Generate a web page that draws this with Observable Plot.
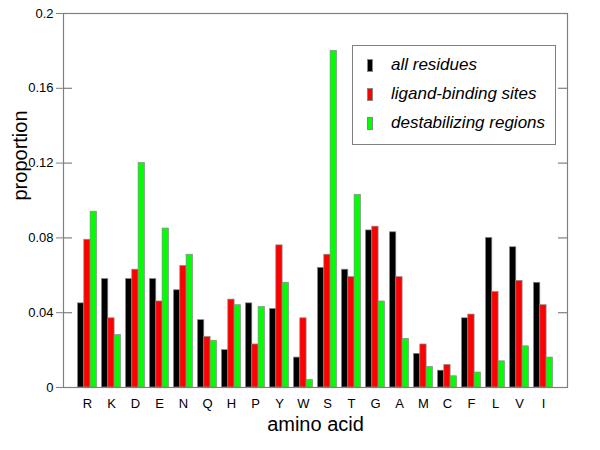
<!DOCTYPE html>
<html>
<head>
<meta charset="utf-8">
<script src="https://cdn.jsdelivr.net/npm/d3@7"></script>
<script src="https://cdn.jsdelivr.net/npm/@observablehq/plot@0.6"></script>
<style>
  body { margin: 0; background: #fff; }
  #wrap { position: relative; width: 600px; height: 450px; font-family: "Liberation Sans", Arial, sans-serif; }
  #legend { position: absolute; left: 352px; top: 45px; width: 204px; height: 100px; border: 1px solid #808080; background: #fff; box-sizing: border-box; }
  .row { position: absolute; left: 14px; height: 14px; display: flex; align-items: center; }
  .sw { width: 6px; height: 13px; border: 1px solid #888; box-sizing: border-box; margin-right: 18px; }
  .lab { font-style: italic; font-size: 17px; color: #000; white-space: nowrap; }
</style>
</head>
<body>
<div id="wrap"></div>
<script>
const aminoAcids = ["R","K","D","E","N","Q","H","P","Y","W","S","T","G","A","M","C","F","L","V","I"];
const allResidues   = [0.045,0.058,0.058,0.058,0.052,0.036,0.020,0.045,0.042,0.016,0.064,0.063,0.084,0.083,0.018,0.009,0.037,0.080,0.075,0.056];
const ligandSites   = [0.079,0.037,0.063,0.046,0.065,0.027,0.047,0.023,0.076,0.037,0.071,0.059,0.086,0.059,0.023,0.012,0.039,0.051,0.057,0.044];
const destabilizing = [0.094,0.028,0.120,0.085,0.071,0.025,0.044,0.043,0.056,0.004,0.180,0.103,0.046,0.026,0.011,0.006,0.008,0.014,0.022,0.016];
const seriesNames = ["all residues", "ligand-binding sites", "destabilizing regions"];
const seriesColors = ["#000000", "#ff0000", "#00ff00"];
const yTicks = [0, 0.04, 0.08, 0.12, 0.16, 0.2];
const yTickLabels = ["0", "0.04", "0.08", "0.12", "0.16", "0.2"];

const rows = (vals) => aminoAcids.map((aa, i) => ({aa, v: vals[i]}));
const insets = [[2.5, 15.2], [8.8, 8.9], [15.1, 2.6]];
const seriesVals = [allResidues, ligandSites, destabilizing];

const W = 600, H = 450, ML = 63, MR = 33, MT = 13, MB = 63;
const plotW = W - ML - MR;
const innerTick = 9;

const bars = seriesVals.map((vals, k) => Plot.barY(rows(vals), {
  x: "aa", y: "v", fill: seriesColors[k], stroke: "#888", strokeWidth: 0.7,
  insetLeft: insets[k][0], insetRight: insets[k][1]
}));

const chart = Plot.plot({
  width: W,
  height: H,
  marginLeft: ML,
  marginRight: MR,
  marginTop: MT,
  marginBottom: MB,
  style: {fontFamily: "Liberation Sans, Arial, sans-serif", background: "#fff"},
  x: {type: "band", domain: aminoAcids, paddingInner: 0, paddingOuter: 0.5},
  y: {domain: [0, 0.2]},
  marks: [
    ...bars,
    Plot.tickY(yTicks.slice(1, -1), {y: (d) => d, stroke: "#808080", strokeWidth: 1.2, insetRight: plotW - innerTick}),
    Plot.tickY(yTicks.slice(1, -1), {y: (d) => d, stroke: "#808080", strokeWidth: 1.2, insetLeft: plotW - innerTick}),
    Plot.frame({stroke: "#808080", strokeWidth: 1.2}),
    Plot.axisX({tickSize: 0, tickPadding: 11, fontSize: 13, label: null, color: "#000"}),
    Plot.axisY({ticks: yTicks, tickSize: 7, tickPadding: 3, fontSize: 13, label: null, stroke: "#808080",
      tickFormat: (d) => yTickLabels[yTicks.indexOf(d)] ?? ""}),
    Plot.text(["amino acid"], {frameAnchor: "bottom", dy: 43, fontSize: 20, fill: "#000"}),
    Plot.text(["proportion"], {frameAnchor: "left", rotate: -90, dx: -43, fontSize: 20, fill: "#000"})
  ]
});

const wrap = document.getElementById("wrap");
wrap.appendChild(chart);

const legend = document.createElement("div");
legend.id = "legend";
const rowTops = [12, 41, 70];
seriesNames.forEach((name, k) => {
  const r = document.createElement("div");
  r.className = "row";
  r.style.top = rowTops[k] + "px";
  const sw = document.createElement("span");
  sw.className = "sw";
  sw.style.background = seriesColors[k];
  const lab = document.createElement("span");
  lab.className = "lab";
  lab.textContent = name;
  r.appendChild(sw);
  r.appendChild(lab);
  legend.appendChild(r);
});
wrap.appendChild(legend);
</script>
</body>
</html>
